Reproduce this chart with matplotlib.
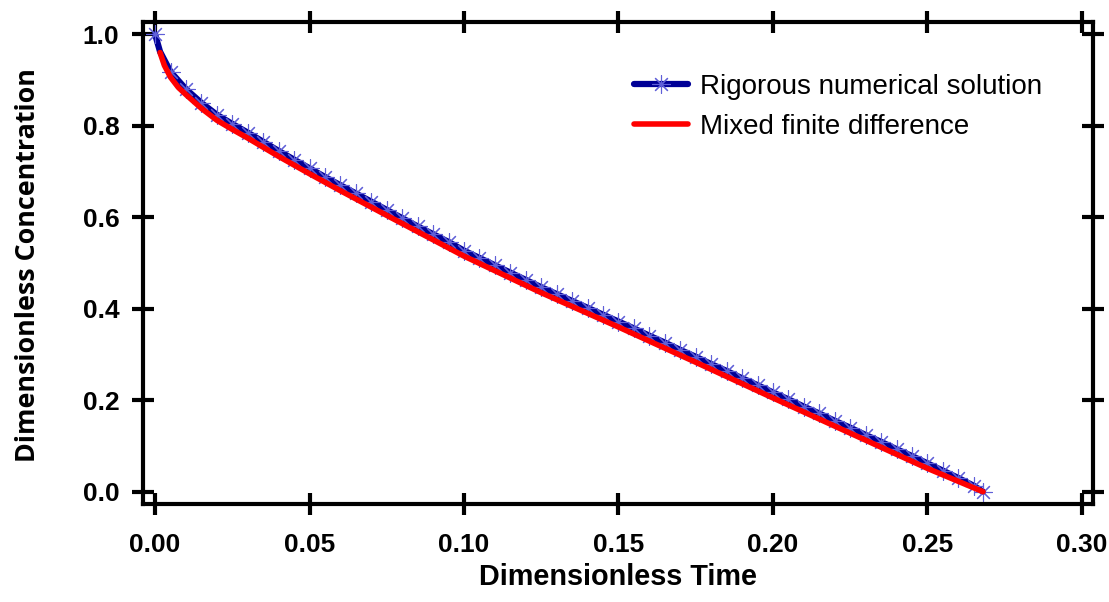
import matplotlib
matplotlib.use("Agg")
import matplotlib.pyplot as plt

# rigorous numerical solution
t_rig = [0.0, 0.0016, 0.005, 0.010, 0.015, 0.020, 0.025, 0.030, 0.035, 0.040,
         0.045, 0.050, 0.055, 0.060, 0.065, 0.070, 0.075, 0.080, 0.085, 0.090,
         0.095, 0.100, 0.105, 0.110, 0.115, 0.120, 0.125, 0.130, 0.135, 0.140,
         0.145, 0.150, 0.155, 0.160, 0.165, 0.170, 0.175, 0.180, 0.185, 0.190,
         0.195, 0.200, 0.205, 0.210, 0.215, 0.220, 0.225, 0.230, 0.235, 0.240,
         0.245, 0.250, 0.255, 0.260, 0.265, 0.268]
c_rig = [1.000, 0.962, 0.918, 0.880, 0.850, 0.824, 0.804, 0.785, 0.765, 0.745,
         0.726, 0.707, 0.688, 0.670, 0.652, 0.634, 0.616, 0.598, 0.580, 0.563,
         0.546, 0.527, 0.511, 0.495, 0.479, 0.463, 0.447, 0.432, 0.417, 0.402,
         0.387, 0.372, 0.357, 0.341, 0.326, 0.310, 0.295, 0.279, 0.264, 0.248,
         0.233, 0.217, 0.202, 0.186, 0.171, 0.155, 0.140, 0.124, 0.109, 0.093,
         0.078, 0.062, 0.046, 0.030, 0.013, 0.000]

# mixed finite difference
t_mfd = [0.0016, 0.003, 0.005, 0.0075, 0.010, 0.015, 0.020, 0.025, 0.030, 0.040,
         0.050, 0.060, 0.075, 0.100, 0.125, 0.150, 0.175, 0.200, 0.225, 0.250, 0.268]
c_mfd = [0.960, 0.932, 0.906, 0.884, 0.868, 0.838, 0.812, 0.792, 0.773, 0.733,
         0.695, 0.658, 0.604, 0.515, 0.435, 0.360, 0.283, 0.205, 0.128, 0.051, 0.000]

xticks = [0.00, 0.05, 0.10, 0.15, 0.20, 0.25, 0.30]
yticks = [0.0, 0.2, 0.4, 0.6, 0.8, 1.0]

fig = plt.figure(figsize=(11.09, 6.02), dpi=100)
ax = fig.add_axes([0.1287, 0.1623, 0.8569, 0.8017])

marks = [i for i in range(len(t_rig)) if i != 1]
ax.plot(t_rig, c_rig, color="#000096", lw=4.5, marker=(8, 2, 0), markersize=13,
        markeredgecolor="#6060d8", markeredgewidth=0.8, markevery=marks,
        solid_capstyle="round", label="Rigorous numerical solution")
ax.plot(t_mfd, c_mfd, color="#ff0000", lw=4.0, solid_capstyle="round",
        label="Mixed finite difference")

ax.set_xlim(-0.004, 0.3036)
ax.set_ylim(-0.0275, 1.0275)
ax.set_xticks(xticks)
ax.set_yticks(yticks)
ax.set_xticklabels([f"{v:.2f}" for v in xticks])
ax.set_yticklabels([f"{v:.1f}" for v in yticks])

for s in ax.spines.values():
    s.set_linewidth(3)
ax.tick_params(axis="both", direction="inout", length=15.8, width=3,
               top=True, right=True, labelsize=19)
ax.tick_params(axis="x", pad=13)
ax.tick_params(axis="y", pad=9)
for lab in ax.get_xticklabels() + ax.get_yticklabels():
    lab.set_fontweight("bold")
    lab.set_family("Liberation Sans")

ax.set_xlabel("Dimensionless Time", fontsize=20.8, fontweight="bold",
              family="Liberation Sans", va="center")
ax.xaxis.set_label_coords(0.5, -0.151)
ax.set_ylabel("Dimensionless Concentration", fontsize=19.4, fontweight="bold",
              family="Open Sans", va="center")
ax.yaxis.set_label_coords(-0.1207, 0.496)

leg = ax.legend(loc="upper left", bbox_to_anchor=(634 / 1109, 1 - 74 / 602),
                bbox_transform=fig.transFigure, frameon=False, borderpad=0,
                borderaxespad=0, handlelength=1.95, handletextpad=0.42,
                labelspacing=0.5, prop={"family": "Liberation Sans", "size": 20})

fig.savefig("out.png", dpi=100)
